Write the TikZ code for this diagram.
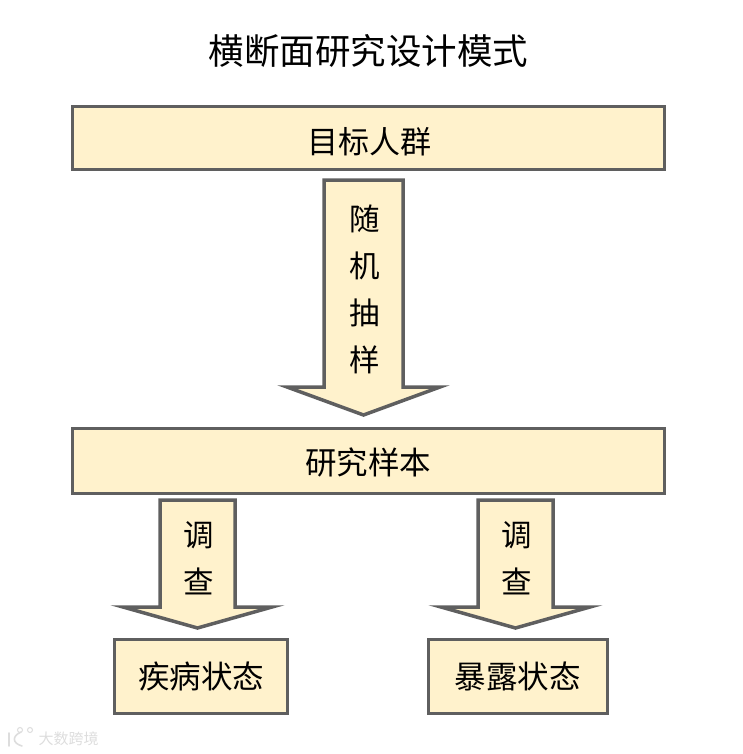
\documentclass[tikz,border=0pt]{standalone}
\usepackage{fontspec}
\setmainfont{Noto Sans CJK SC}
\definecolor{boxline}{HTML}{5F5F5F}
\definecolor{boxfill}{HTML}{FFF2CC}
\definecolor{markcol}{HTML}{DDDDDD}
\tikzset{
  x=1pt,y=-1pt,
  linecol/.style={draw=boxline,line width=3.5pt,fill=boxfill,line join=miter},
  box/.style={linecol,rectangle,inner sep=0pt,minimum height=#1},
  blockarrow/.style={linecol,miter limit=20},
  lab/.style={font=\fontsize{31.5}{31.5}\selectfont,text=black,inner sep=0pt},
  vlab/.style={font=\fontsize{30.5}{47}\selectfont,text=black,inner sep=0pt,align=center},
  logoline/.style={draw=markcol,line width=1.6pt,line cap=round},
}
\begin{document}
\begin{tikzpicture}
\useasboundingbox (0,0) rectangle (743,754);
\node[inner sep=0pt,font=\fontsize{35.5}{35.5}\selectfont,text=black] (title) at (368.5,51) {横断面研究设计模式};
\node[box=63pt,minimum width=592pt] (pop) at (368.5,138) {};
\node[lab,font=\fontsize{31}{31}\selectfont] (poplab) at (369.5,141.5) {目标人群};
\node[box=65pt,minimum width=592pt] (sample) at (368.5,461) {};
\node[lab] (samplelab) at (368,462.5) {研究样本};
\node[box=74pt,minimum width=173pt] (disease) at (201,676.5) {};
\node[lab] (diseaselab) at (201,676) {疾病状态};
\node[box=74pt,minimum width=179pt] (exposure) at (518,676.5) {};
\node[lab] (exposurelab) at (517.5,676) {暴露状态};
\draw[blockarrow] (324,180) -- (403,180) -- (403,387) -- (440,387) -- (363.5,415) -- (287,387) -- (324,387) -- cycle;
\draw[blockarrow] (160,500) -- (235,500) -- (235,607) -- (272,607) -- (197.5,628) -- (123,607) -- (160,607) -- cycle;
\draw[blockarrow] (478,500) -- (553,500) -- (553,607) -- (590,607) -- (515.5,628) -- (441,607) -- (478,607) -- cycle;
\node[vlab] (sampling) at (364.5,289.5) {随\\机\\抽\\样};
\node[vlab] (surveyA) at (198.5,558) {调\\查};
\node[vlab] (surveyB) at (516.5,558) {调\\查};
\node[font=\fontsize{15}{15}\selectfont,text=markcol,inner sep=0pt] (mark) at (68.5,739) {大数跨境};
\draw[logoline] (9,733) -- (9,746);
\draw[logoline] (21,732) .. controls (12,736) and (12,743) .. (22,746);
\draw[logoline,line width=1pt] (20,730) circle[radius=2.5pt];
\draw[logoline,line width=1pt] (30,730) circle[radius=2.5pt];
\end{tikzpicture}
\end{document}
